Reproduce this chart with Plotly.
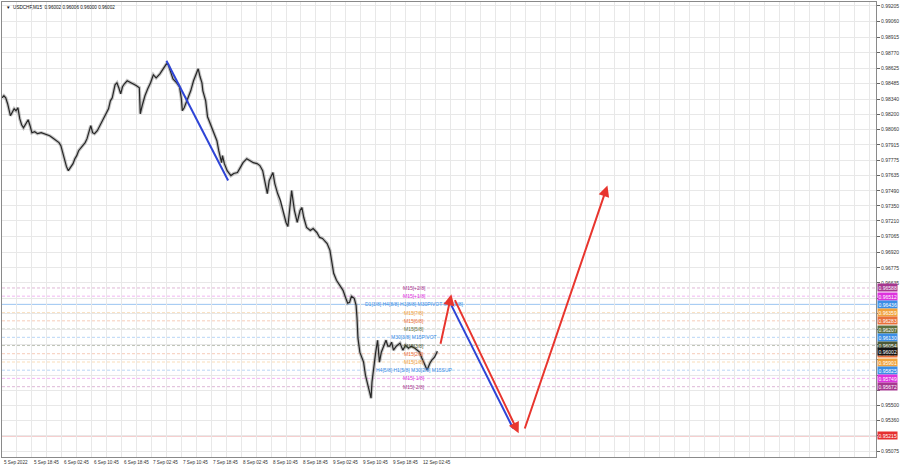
import plotly.graph_objects as go

# ---------------- data ----------------
bar_index = [0, 2, 4, 6, 9, 11, 13, 15, 17, 19, 21, 23, 26, 28, 30, 32, 35, 38, 42, 45, 48, 51, 54, 58, 61, 63, 65, 67, 69, 71,
             74, 76, 78, 80, 82, 84, 86, 89, 91, 93, 95, 97, 99, 102, 106, 109, 112, 114, 116, 118, 121, 123, 125, 127, 129, 131,
             134, 138, 141, 144, 147, 148, 150, 153, 156, 159, 162, 165, 169, 172, 174, 176, 178, 180, 183, 187, 190, 192, 193,
             195, 198, 202, 205, 208, 210, 212, 214, 215, 218, 220, 223, 226, 230, 232, 234, 235, 236, 238, 241, 245, 248, 252,
             255, 258, 262, 266, 269, 273, 276, 279, 282, 284, 286, 288, 290, 292, 295, 298, 300, 302, 304, 306, 308, 310, 313,
             316, 319, 321, 323, 326, 330, 333, 337, 340, 343, 348, 351, 353, 355, 358, 362, 365, 368, 370, 372, 374, 377, 379,
             380, 381, 383, 385, 387, 389, 391, 394, 395, 396, 398, 400, 402, 404, 406, 409, 411, 413, 415, 417, 419, 422, 426,
             429, 432, 435, 438, 442, 445, 447, 449, 451, 453, 455, 458, 460, 463, 466]
close = [0.98353, 0.98372, 0.98353, 0.98298, 0.98187, 0.98214, 0.98251, 0.98233, 0.98261, 0.98159, 0.98103, 0.98075, 0.98122,
         0.98149, 0.98094, 0.98029, 0.98038, 0.98020, 0.98029, 0.98020, 0.98011, 0.98001, 0.97983, 0.97955, 0.97937, 0.97909,
         0.97844, 0.97770, 0.97714, 0.97677, 0.97714, 0.97742, 0.97788, 0.97816, 0.97862, 0.97881, 0.97900, 0.97937, 0.97974,
         0.98048, 0.98094, 0.98029, 0.98020, 0.98048, 0.98112, 0.98168, 0.98214, 0.98251, 0.98325, 0.98353, 0.98474, 0.98492,
         0.98446, 0.98390, 0.98455, 0.98483, 0.98511, 0.98492, 0.98483, 0.98464, 0.98446, 0.98205, 0.98279, 0.98372, 0.98437,
         0.98492, 0.98566, 0.98538, 0.98575, 0.98612, 0.98640, 0.98668, 0.98659, 0.98603, 0.98529, 0.98492, 0.98455, 0.98344,
         0.98233, 0.98261, 0.98325, 0.98418, 0.98511, 0.98585, 0.98622, 0.98548, 0.98492, 0.98418, 0.98325, 0.98177, 0.98112,
         0.98048, 0.97955, 0.97862, 0.97798, 0.97751, 0.97816, 0.97742, 0.97677, 0.97631, 0.97650, 0.97659, 0.97705, 0.97751,
         0.97788, 0.97770, 0.97751, 0.97742, 0.97724, 0.97677, 0.97557, 0.97464, 0.97585, 0.97622, 0.97659, 0.97557, 0.97464,
         0.97400, 0.97335, 0.97261, 0.97196, 0.97159, 0.97335, 0.97492, 0.97307, 0.97196, 0.97307, 0.97335, 0.97242, 0.97150,
         0.97122, 0.97140, 0.97103, 0.97057, 0.97048, 0.97001, 0.96937, 0.96825, 0.96724, 0.96659, 0.96612, 0.96566, 0.96492,
         0.96446, 0.96455, 0.96511, 0.96492, 0.96427, 0.96307, 0.96122, 0.95992, 0.95937, 0.95900, 0.95779, 0.95714, 0.95613,
         0.95566, 0.95714, 0.95872, 0.95992, 0.96103, 0.95900, 0.95992, 0.96057, 0.96103, 0.96048, 0.96048, 0.96085, 0.96011,
         0.96048, 0.96076, 0.96011, 0.96057, 0.96029, 0.96048, 0.96029, 0.96011, 0.95992, 0.95946, 0.95900, 0.95853, 0.95826,
         0.95890, 0.95918, 0.95946, 0.96001]

# earlier blue trend line (bar index, price)
trend_bars = [176, 242]
trend_prices = [0.98696, 0.97585]

# forecast path arrows: (start bar, start price, end bar, end price)
red_arrow_start_bars = [469, 484, 559]
red_arrow_start_prices = [0.96057, 0.96489, 0.95270]
red_arrow_end_bars = [481, 553, 648]
red_arrow_end_prices = [0.96529, 0.95239, 0.97538]
blue_forecast_bars = [481, 547]
blue_forecast_prices = [0.96427, 0.95286]

# Murrey levels
level_prices = [0.96588, 0.96512, 0.96436, 0.96359, 0.96283, 0.96207, 0.96130, 0.96054, 0.95978, 0.95901, 0.95825,
                0.95749, 0.95672]
level_texts = ["M15[+2/8]", "M15[+1/8]", "D1[3/8] H4[8/8] H1[8/8] M30PIVOT M15[8/8]", "M15[7/8]", "M15[6/8]",
               "M15[5/8]", "M30[3/8] M15PIVOT", "M15[3/8]", "M15[2/8]", "M15[1/8]",
               "H4[5/8] H1[5/8] M30[2/8] M15SUP", "M15[-1/8]", "M15[-2/8]"]
level_colors = ["#a6378f", "#dd33dd", "#3b8ee6", "#f0a23c", "#e8703a", "#5f7140", "#3b8ee6", "#4d5a36", "#e8703a",
                "#f0a23c", "#3b8ee6", "#dd33dd", "#a6378f"]
level_solid = [False, False, True, False, False, False, False, False, False, False, False, False, False]
label_bar = 441

current_price = 0.96002
target_price = 0.95215

y_ticks = [0.99205, 0.99060, 0.98915, 0.98770, 0.98625, 0.98485, 0.98340, 0.98200, 0.98060, 0.97915, 0.97775,
           0.97635, 0.97490, 0.97350, 0.97210, 0.97065, 0.96920, 0.96775, 0.96635, 0.96490, 0.96350, 0.96205,
           0.96065, 0.95925, 0.95780, 0.95640, 0.95500, 0.95360, 0.95215, 0.95075]
# tick labels hidden behind the level price tags
y_ticks_covered = [0.96490, 0.96350, 0.96205, 0.96065, 0.95925, 0.95780, 0.95640, 0.95215]
x_tick_bars = [0, 32, 64, 96, 128, 160, 192, 224, 256, 288, 320, 352, 384, 416, 448]
x_tick_labels = ["5 Sep 2022", "5 Sep 18:45", "6 Sep 02:45", "6 Sep 10:45", "6 Sep 18:45", "7 Sep 02:45",
                 "7 Sep 10:45", "7 Sep 18:45", "8 Sep 02:45", "8 Sep 10:45", "8 Sep 18:45", "9 Sep 02:45",
                 "9 Sep 10:45", "9 Sep 18:45", "12 Sep 02:45"]
title_text = "\u25BC  USDCHF,M15  0.96002 0.96006 0.96000 0.96002"

FONT = "Liberation Sans"

# ---------------- figure ----------------
fig = go.Figure()

# price (wick-like underlay + body line)
fig.add_trace(go.Scatter(x=bar_index, y=close, mode="lines",
                         line=dict(color="rgba(110,110,110,0.4)", width=3.4), hoverinfo="skip"))
fig.add_trace(go.Scatter(x=bar_index, y=close, mode="lines",
                         line=dict(color="#262626", width=1.2)))

# blue trend lines
fig.add_trace(go.Scatter(x=trend_bars, y=trend_prices, mode="lines",
                         line=dict(color="#2f45d6", width=2)))
fig.add_trace(go.Scatter(x=blue_forecast_bars, y=blue_forecast_prices, mode="lines",
                         line=dict(color="#2f45d6", width=2)))

shapes = []
annotations = []

# level lines, texts and price tags
for p, t, c, solid in zip(level_prices, level_texts, level_colors, level_solid):
    shapes.append(dict(type="line", xref="paper", x0=0, x1=1, yref="y", y0=p, y1=p,
                       line=dict(color=c, width=1, dash="solid" if solid else "3px,2px"),
                       opacity=0.35 if not solid else 0.5, layer="below"))
    annotations.append(dict(x=label_bar, y=p, xref="x", yref="y", text=t, showarrow=False,
                            xanchor="center", yanchor="middle",
                            font=dict(family=FONT, size=5, color=c)))
    annotations.append(dict(x=1, y=p, xref="paper", yref="y", text="%.5f" % p, showarrow=False,
                            xanchor="left", yanchor="middle", xshift=1,
                            bgcolor=c, borderpad=0.6,
                            font=dict(family=FONT, size=5, color="white")))

# target line
shapes.append(dict(type="line", xref="paper", x0=0, x1=1, yref="y", y0=target_price, y1=target_price,
                   line=dict(color="#e05a5a", width=1), opacity=0.7, layer="below"))
annotations.append(dict(x=1, y=target_price, xref="paper", yref="y", text="%.5f" % target_price,
                        showarrow=False, xanchor="left", yanchor="middle", xshift=1,
                        bgcolor="#e53030", borderpad=0.6, font=dict(family=FONT, size=5, color="white")))
# current price tag
annotations.append(dict(x=1, y=current_price, xref="paper", yref="y", text="%.5f" % current_price,
                        showarrow=False, xanchor="left", yanchor="middle", xshift=1,
                        bgcolor="#151515", borderpad=0.6, font=dict(family=FONT, size=5, color="white")))

# red forecast arrows
for xs, ys, xe, ye in zip(red_arrow_start_bars, red_arrow_start_prices, red_arrow_end_bars, red_arrow_end_prices):
    annotations.append(dict(x=xe, y=ye, xref="x", yref="y", ax=xs, ay=ys, axref="x", ayref="y",
                            showarrow=True, arrowhead=2, arrowsize=1.1, arrowwidth=2,
                            arrowcolor="#e8352e", text="", standoff=0, startstandoff=0))

# x labels (left-aligned at ticks)
for b, t in zip(x_tick_bars, x_tick_labels):
    annotations.append(dict(x=b, y=0, xref="x", yref="paper", text=t, showarrow=False,
                            xanchor="left", yanchor="top", yshift=-1, xshift=0,
                            font=dict(family=FONT, size=4.6, color="#333")))

# title
annotations.append(dict(x=0, y=1, xref="paper", yref="paper", text=title_text, showarrow=False,
                        xanchor="left", yanchor="top", xshift=2, yshift=-1,
                        font=dict(family=FONT, size=4.6, color="#111")))

fig.update_layout(
    width=900, height=468,
    margin=dict(l=1, r=22, t=1, b=11),
    paper_bgcolor="white", plot_bgcolor="white",
    showlegend=False,
    shapes=shapes, annotations=annotations,
    xaxis=dict(range=[0, 935.47], dtick=16, tick0=0, showgrid=True, gridcolor="#e8e8e8", gridwidth=1,
               zeroline=False, showticklabels=False, ticks="", showline=True, linecolor="#8a8a8a",
               linewidth=1, mirror=True),
    yaxis=dict(range=[0.950194, 0.992420], side="right", tickvals=y_ticks,
               ticktext=["" if v in y_ticks_covered else "%.5f" % v for v in y_ticks],
               showgrid=True, gridcolor="#e8e8e8",
               zeroline=False, ticks="outside", ticklen=3, tickcolor="#666",
               tickfont=dict(family=FONT, size=5, color="#333"),
               showline=True, linecolor="#8a8a8a", linewidth=1, mirror=True),
)

fig.write_html("out.html", config={"displayModeBar": False},
               post_script="document.body.style.margin='0';document.body.style.overflow='hidden';")
